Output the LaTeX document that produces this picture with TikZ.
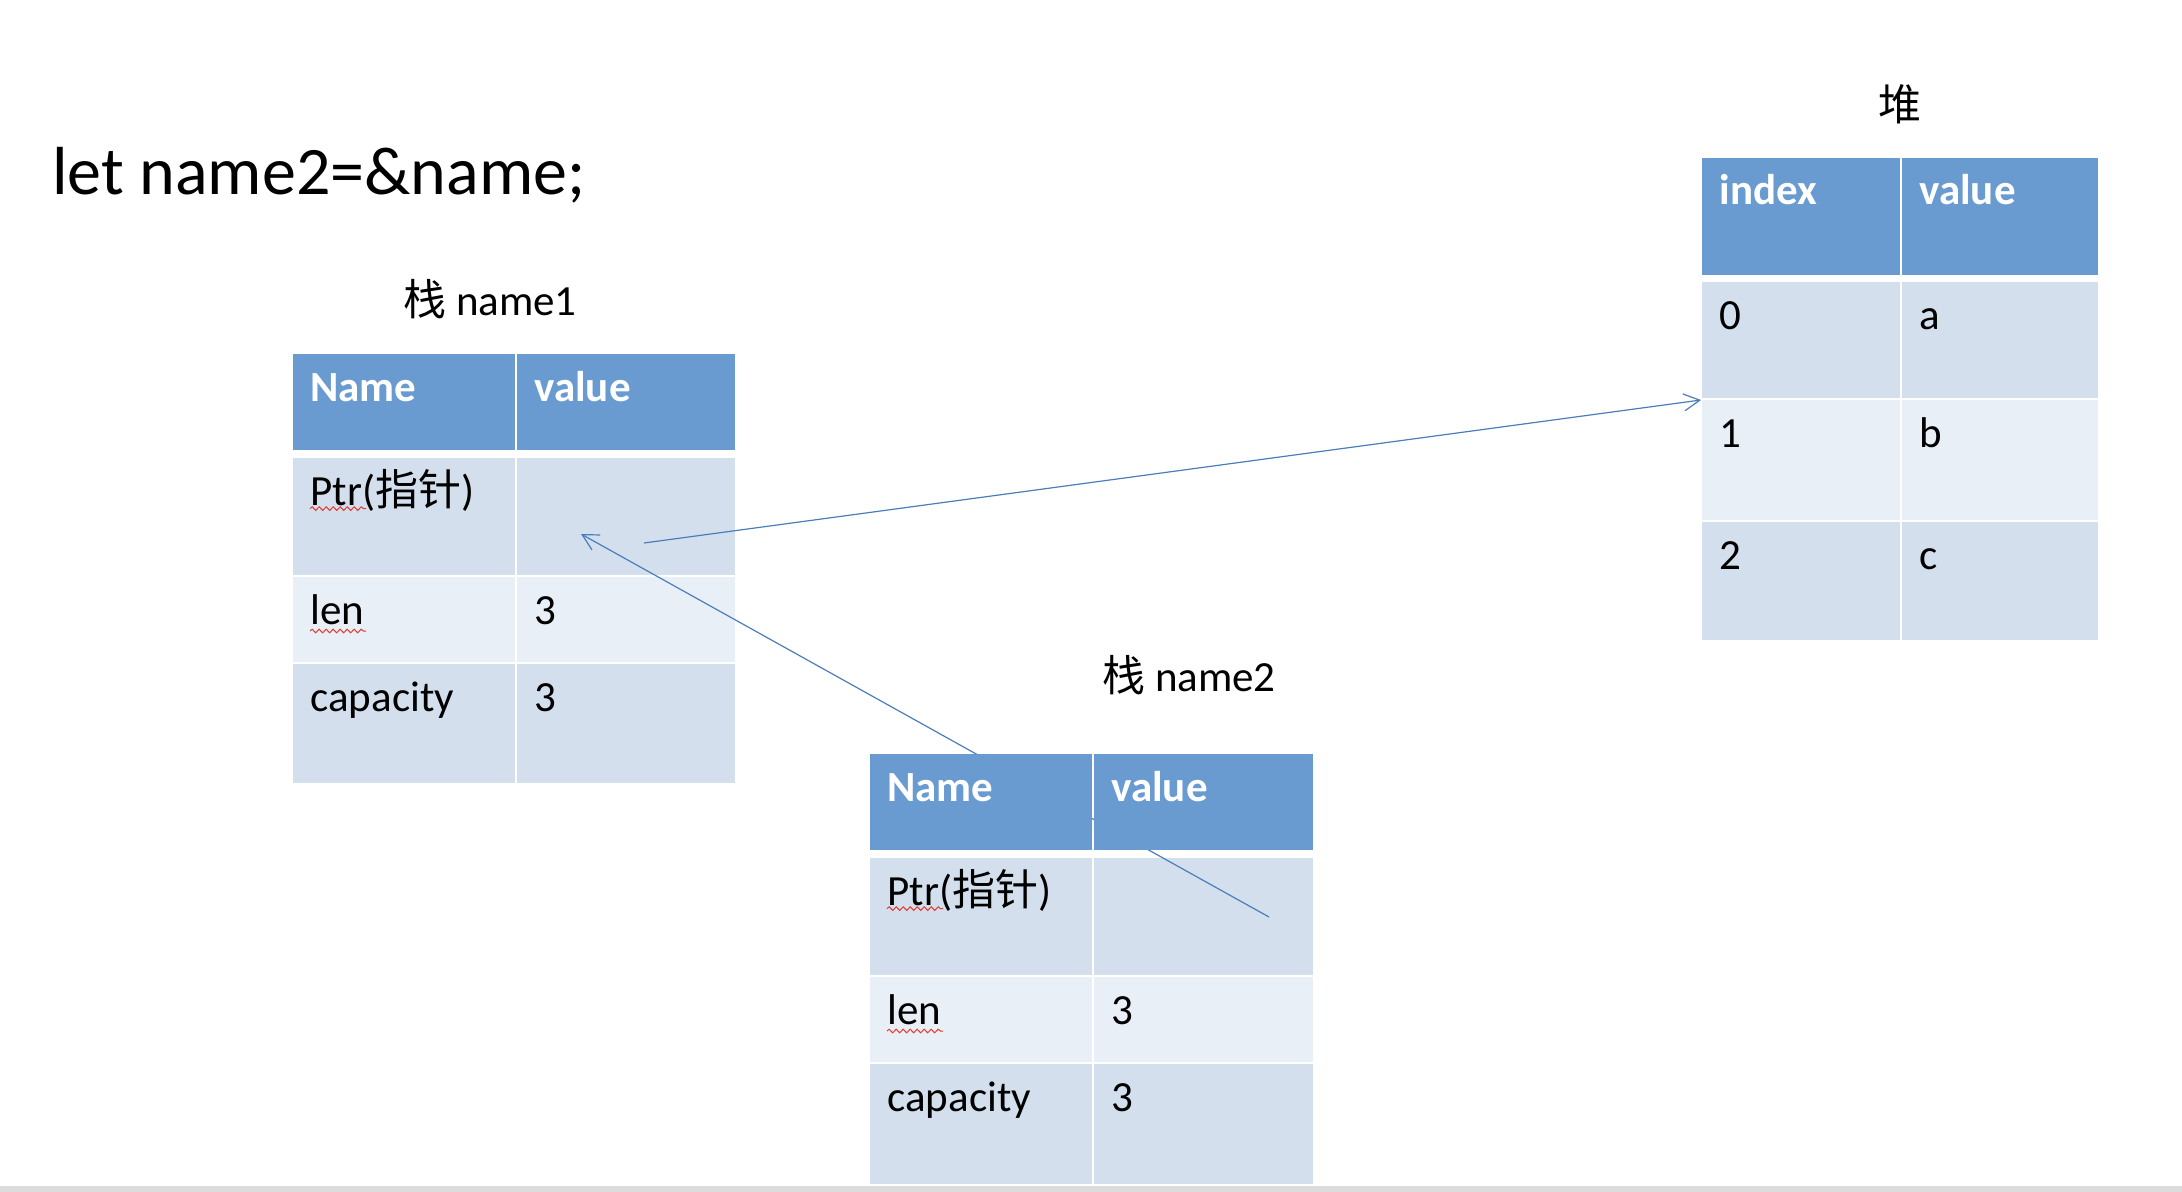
\documentclass[tikz,border=0pt]{standalone}
\usepackage{fontspec}
\setmainfont{Carlito}
\newfontfamily\cjk{Noto Sans CJK SC}
\usetikzlibrary{arrows.meta,decorations.pathmorphing}
\definecolor{hdr}{RGB}{106,155,208}
\definecolor{dk}{RGB}{211,223,237}
\definecolor{lt}{RGB}{233,239,247}
\definecolor{arr}{RGB}{74,126,187}
\definecolor{spell}{RGB}{226,58,48}
\definecolor{strip}{RGB}{220,220,220}
\newcommand\mkcell[8]{%
  \pgfmathsetmacro\mkw{(#4-#2)*0.5}%
  \pgfmathsetmacro\mkh{(#5-#3)*0.5}%
  \node[cellbox,fill=#6,minimum width=\mkw pt,minimum height=\mkh pt] (#1) at (#2,#3) {};%
  \node[#7] (#1t) at ([xshift=8.5pt,yshift=-23.5pt]#1.north west) {#8};%
}
\tikzset{
  cellbox/.style={anchor=north west,inner sep=0pt,outer sep=0pt,draw=none},
  hdrtxt/.style={anchor=base west,inner sep=0pt,text=white,font=\bfseries\fontsize{21.5}{26}\selectfont},
  bodytxt/.style={anchor=base west,inner sep=0pt,text=black,font=\fontsize{21.5}{26}\selectfont},
  titletxt/.style={anchor=base,inner sep=0pt,text=black,font=\fontsize{21.5}{26}\selectfont},
  bigtxt/.style={anchor=base west,inner sep=0pt,text=black,font=\fontsize{34}{41}\selectfont},
  conn/.style={draw=arr,line width=0.6pt,-{Straight Barb[length=8pt,width=8.5pt,line width=0.6pt]}},
  squig/.style={draw=spell,line width=0.5pt,decorate,decoration={snake,amplitude=0.9pt,segment length=3.5pt}}
}
\begin{document}
\begin{tikzpicture}[x=0.5pt,y=-0.5pt]
\useasboundingbox (0,0) rectangle (2182,1192);
\fill[white] (0,0) rectangle (2182,1192);
\node[cellbox,fill=strip,minimum width=1091pt,minimum height=3pt] (stripbar) at (0,1186) {};

% title
\node[bigtxt] (title) at (52,195) {let name2=\&name;};

% ---------- stack name1 ----------
\node[titletxt] (n1title) at (490,316) {{\cjk 栈} name1};
\mkcell{n1ha}{293}{354}{515}{450}{hdr}{hdrtxt}{Name}
\mkcell{n1hb}{517}{354}{735}{450}{hdr}{hdrtxt}{value}
\mkcell{n1ra}{293}{458}{515}{575}{dk}{bodytxt}{Ptr({\cjk 指针})}
\mkcell{n1rb}{517}{458}{735}{575}{dk}{bodytxt}{}
\mkcell{n1sa}{293}{577}{515}{662}{lt}{bodytxt}{len}
\mkcell{n1sb}{517}{577}{735}{662}{lt}{bodytxt}{3}
\mkcell{n1ua}{293}{664}{515}{783}{dk}{bodytxt}{capacity}
\mkcell{n1ub}{517}{664}{735}{783}{dk}{bodytxt}{3}
\draw[squig] ([yshift=-1.8pt]n1rat.base west) -- ++(56,0);
\draw[squig] ([yshift=-3.5pt]n1sat.base west) -- ++(56,0);

% ---------- heap ----------
\node[titletxt] (hptitle) at (1900,121) {{\cjk 堆}};
\mkcell{hpha}{1702}{158}{1900}{275}{hdr}{hdrtxt}{index}
\mkcell{hphb}{1902}{158}{2098}{275}{hdr}{hdrtxt}{value}
\mkcell{hpra}{1702}{282}{1900}{398}{dk}{bodytxt}{0}
\mkcell{hprb}{1902}{282}{2098}{398}{dk}{bodytxt}{a}
\mkcell{hpsa}{1702}{400}{1900}{520}{lt}{bodytxt}{1}
\mkcell{hpsb}{1902}{400}{2098}{520}{lt}{bodytxt}{b}
\mkcell{hpua}{1702}{522}{1900}{640}{dk}{bodytxt}{2}
\mkcell{hpub}{1902}{522}{2098}{640}{dk}{bodytxt}{c}

% ---------- stack name2 (body) ----------
\node[titletxt] (n2title) at (1189,691) {{\cjk 栈} name2};
\mkcell{n2ra}{870}{858}{1092}{975}{dk}{bodytxt}{Ptr({\cjk 指针})}
\mkcell{n2rb}{1094}{858}{1313}{975}{dk}{bodytxt}{}
\mkcell{n2sa}{870}{977}{1092}{1062}{lt}{bodytxt}{len}
\mkcell{n2sb}{1094}{977}{1313}{1062}{lt}{bodytxt}{3}
\mkcell{n2ua}{870}{1064}{1092}{1184}{dk}{bodytxt}{capacity}
\mkcell{n2ub}{1094}{1064}{1313}{1184}{dk}{bodytxt}{3}
\draw[squig] ([yshift=-1.8pt]n2rat.base west) -- ++(56,0);
\draw[squig] ([yshift=-3.5pt]n2sat.base west) -- ++(56,0);

% ---------- pointers ----------
\coordinate (p1src) at (644,543);
\coordinate (p1dst) at (581,534);
\coordinate (p2src) at (1269,917);
\coordinate (hpdst) at (1701,400);
\draw[conn] (p1src) -- (hpdst);
\draw[conn] (p2src) -- (p1dst);

% ---------- stack name2 header (over the pointer line) ----------
\mkcell{n2ha}{870}{754}{1092}{850}{hdr}{hdrtxt}{Name}
\mkcell{n2hb}{1094}{754}{1313}{850}{hdr}{hdrtxt}{value}
\end{tikzpicture}
\end{document}
